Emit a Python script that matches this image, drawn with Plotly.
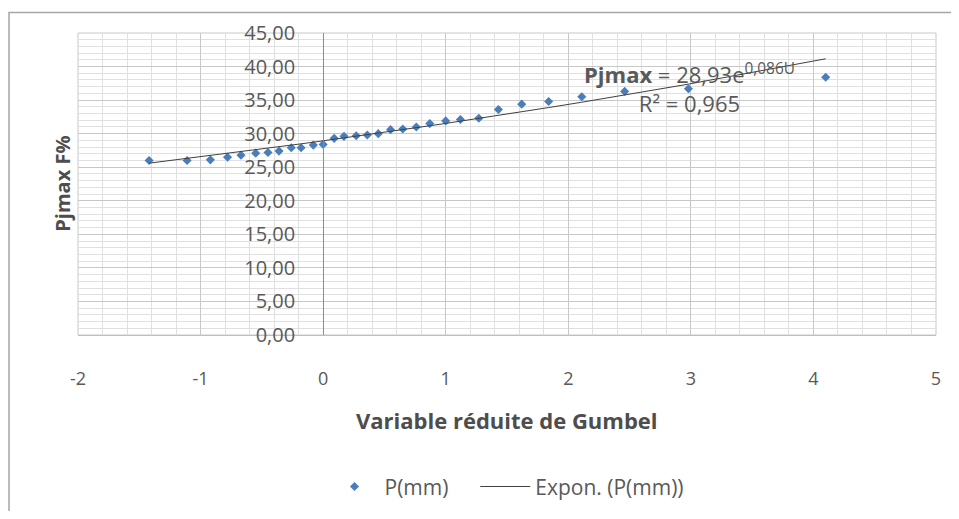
import numpy as np
import plotly.graph_objects as go

# === Data ===
gumbel_u = [-1.42, -1.11, -0.92, -0.78, -0.67, -0.55, -0.45, -0.36, -0.26, -0.18,
            -0.08, 0.00, 0.09, 0.17, 0.27, 0.36, 0.45, 0.55, 0.65, 0.76,
            0.87, 1.00, 1.12, 1.27, 1.43, 1.62, 1.84, 2.11, 2.46, 2.98, 4.10]
p_mm = [26.0, 26.0, 26.1, 26.5, 26.8, 27.1, 27.2, 27.4, 27.9, 27.9,
        28.3, 28.4, 29.3, 29.6, 29.7, 29.8, 30.0, 30.6, 30.7, 31.0,
        31.5, 31.9, 32.1, 32.3, 33.6, 34.4, 34.8, 35.5, 36.3, 36.7, 38.4]

# Excel exponential trendline coefficients shown on the chart
trend_a = 28.93
trend_b = 0.086
trend_label = "<b>Pjmax</b> = 28,93e<sup>0,086U</sup><br>R² = 0,965"

x_ticks = [-2, -1, 0, 1, 2, 3, 4, 5]
y_ticks = [0, 5, 10, 15, 20, 25, 30, 35, 40, 45]

trend_x = np.array(gumbel_u)
trend_y = trend_a * np.exp(trend_b * trend_x)

TXT = "#595959"
FONT = "Open Sans"
NB = "\u00a0"

fig = go.Figure()

fig.add_trace(go.Scatter(
    x=gumbel_u, y=p_mm, mode="markers", name="P(mm)" + NB * 4,
    marker=dict(symbol="diamond", size=7, color="#4A7EBB"),
))
fig.add_trace(go.Scatter(
    x=trend_x, y=trend_y, mode="lines", name="Expon. (P(mm))",
    line=dict(color="#404040", width=1),
))

# page body has an 8px margin, so the figure is shifted by 8px
fig.update_layout(
    width=943, height=503,
    margin=dict(l=70, r=15, t=25, b=176, autoexpand=False),
    paper_bgcolor="white", plot_bgcolor="white",
    separators=", ",
    font=dict(family=FONT, color=TXT),
    showlegend=True,
    legend=dict(orientation="h", x=0.5, xanchor="center",
                yref="container", y=0.048, yanchor="middle",
                font=dict(size=21, color=TXT), itemwidth=50),
    xaxis=dict(
        range=[-2, 5], tickvals=x_ticks, ticktext=[str(v) for v in x_ticks],
        showgrid=True, gridcolor="#c8c8c8", gridwidth=1,
        minor=dict(dtick=0.2, showgrid=True, gridcolor="#e0e0e0", gridwidth=1),
        zeroline=False, showline=True, linecolor="#bfbfbf",
        tickfont=dict(size=18, color=TXT), ticklabelstandoff=27,
    ),
    yaxis=dict(
        range=[0, 45], tickvals=y_ticks, tickformat=".2f",
        anchor="free", position=2 / 7,
        showgrid=True, gridcolor="#c8c8c8", gridwidth=1,
        minor=dict(dtick=1, showgrid=True, gridcolor="#e0e0e0", gridwidth=1),
        zeroline=False, showline=True, linecolor="#8c8c8c",
        tickfont=dict(size=20, color=TXT), ticklabelstandoff=24,
    ),
)

# plot area border
fig.add_shape(type="rect", xref="paper", yref="paper", x0=0, x1=1, y0=0, y1=1,
              line=dict(color="#c8c8c8", width=1), layer="below")
# chart border
fig.add_shape(type="rect", xref="paper", yref="paper", x0=-0.0804, x1=1.06, y0=-0.70, y1=1.068,
              line=dict(color="#a6a6a6", width=1.5))

fig.add_annotation(text="<b>Pjmax F%</b>", xref="paper", yref="paper", x=-0.019, y=0.50,
                   xanchor="center", yanchor="middle",
                   textangle=-90, showarrow=False, font=dict(size=20, color="#4d4d4d"))
fig.add_annotation(text="<b>Variable réduite de Gumbel</b>", xref="paper", yref="paper",
                   x=0.5, y=-0.281, xanchor="center", yanchor="middle",
                   showarrow=False, font=dict(size=22, color="#4d4d4d"))
fig.add_annotation(text=trend_label, x=2.99, y=36.8, showarrow=False,
                   xanchor="center", yanchor="middle",
                   font=dict(size=22, color=TXT), align="center")

fig.write_html("out.html")
